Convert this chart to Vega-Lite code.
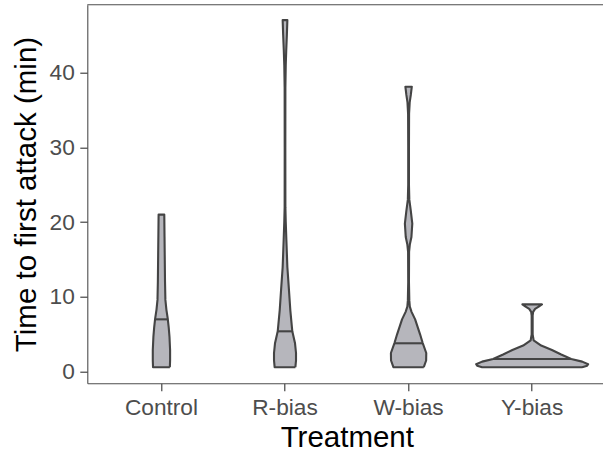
{
  "$schema": "https://vega.github.io/schema/vega-lite/v6.json",
  "width": 519,
  "height": 378.6,
  "autosize": {"type": "none"},
  "padding": {"left": 87.3, "top": 4.7, "right": -3.3, "bottom": 72.7},
  "config": {
    "view": {"stroke": null},
    "font": "Liberation Sans",
    "axis": {
      "domain": true, "domainColor": "#4d4d4d", "domainWidth": 1.1, "grid": false,
      "tickColor": "#333333", "tickSize": 7.5, "tickWidth": 1.1,
      "labelFont": "Liberation Sans", "labelFontSize": 22.7, "labelColor": "#4d4d4d",
      "titleFont": "Liberation Sans", "titleFontSize": 29.5, "titleFontWeight": "normal", "titleColor": "#000000"
    },
    "axisX": {"labelPadding": 6, "titlePadding": 4, "labelAngle": 0},
    "axisY": {"labelPadding": 5.5, "titlePadding": 8}
  },
  "datasets": {
    "outline": [
      {"g":"Control","t":0.6,"w":0.068,"k":1},{"g":"Control","t":1.5,"w":0.070,"k":2},{"g":"Control","t":2.9,"w":0.070,"k":3},{"g":"Control","t":4.7,"w":0.065,"k":4},{"g":"Control","t":5.9,"w":0.059,"k":5},{"g":"Control","t":7.1,"w":0.051,"k":6},{"g":"Control","t":8.3,"w":0.040,"k":7},{"g":"Control","t":9.6,"w":0.032,"k":8},{"g":"Control","t":12,"w":0.029,"k":9},{"g":"Control","t":15,"w":0.027,"k":10},{"g":"Control","t":18,"w":0.025,"k":11},{"g":"Control","t":21,"w":0.023,"k":12},
      {"g":"Control","t":21,"w":-0.023,"k":13},{"g":"Control","t":18,"w":-0.025,"k":14},{"g":"Control","t":15,"w":-0.027,"k":15},{"g":"Control","t":12,"w":-0.029,"k":16},{"g":"Control","t":9.6,"w":-0.032,"k":17},{"g":"Control","t":8.3,"w":-0.040,"k":18},{"g":"Control","t":7.1,"w":-0.051,"k":19},{"g":"Control","t":5.9,"w":-0.059,"k":20},{"g":"Control","t":4.7,"w":-0.065,"k":21},{"g":"Control","t":2.9,"w":-0.070,"k":22},{"g":"Control","t":1.5,"w":-0.070,"k":23},{"g":"Control","t":0.6,"w":-0.068,"k":24},{"g":"Control","t":0.6,"w":0.068,"k":25},

      {"g":"R-bias","t":0.6,"w":0.084,"k":1},{"g":"R-bias","t":1.5,"w":0.089,"k":2},{"g":"R-bias","t":2.5,"w":0.089,"k":3},{"g":"R-bias","t":3.8,"w":0.081,"k":4},{"g":"R-bias","t":5.4,"w":0.059,"k":5},{"g":"R-bias","t":8.2,"w":0.043,"k":6},{"g":"R-bias","t":10.9,"w":0.032,"k":7},{"g":"R-bias","t":14,"w":0.019,"k":8},{"g":"R-bias","t":17.6,"w":0.011,"k":9},{"g":"R-bias","t":20,"w":0.006,"k":10},{"g":"R-bias","t":22,"w":0.003,"k":11},{"g":"R-bias","t":30,"w":0.0025,"k":12},{"g":"R-bias","t":38,"w":0.003,"k":13},{"g":"R-bias","t":41,"w":0.006,"k":14},{"g":"R-bias","t":43,"w":0.010,"k":15},{"g":"R-bias","t":45,"w":0.015,"k":16},{"g":"R-bias","t":47,"w":0.019,"k":17},
      {"g":"R-bias","t":47,"w":-0.019,"k":18},{"g":"R-bias","t":45,"w":-0.015,"k":19},{"g":"R-bias","t":43,"w":-0.010,"k":20},{"g":"R-bias","t":41,"w":-0.006,"k":21},{"g":"R-bias","t":38,"w":-0.003,"k":22},{"g":"R-bias","t":30,"w":-0.0025,"k":23},{"g":"R-bias","t":22,"w":-0.003,"k":24},{"g":"R-bias","t":20,"w":-0.006,"k":25},{"g":"R-bias","t":17.6,"w":-0.011,"k":26},{"g":"R-bias","t":14,"w":-0.019,"k":27},{"g":"R-bias","t":10.9,"w":-0.032,"k":28},{"g":"R-bias","t":8.2,"w":-0.043,"k":29},{"g":"R-bias","t":5.4,"w":-0.059,"k":30},{"g":"R-bias","t":3.8,"w":-0.081,"k":31},{"g":"R-bias","t":2.5,"w":-0.089,"k":32},{"g":"R-bias","t":1.5,"w":-0.089,"k":33},{"g":"R-bias","t":0.6,"w":-0.084,"k":34},{"g":"R-bias","t":0.6,"w":0.084,"k":35},

      {"g":"W-bias","t":0.6,"w":0.123,"k":1},{"g":"W-bias","t":1.5,"w":0.142,"k":2},{"g":"W-bias","t":2.5,"w":0.143,"k":3},{"g":"W-bias","t":3.9,"w":0.113,"k":4},{"g":"W-bias","t":5,"w":0.093,"k":5},{"g":"W-bias","t":6,"w":0.073,"k":6},{"g":"W-bias","t":7,"w":0.053,"k":7},{"g":"W-bias","t":8,"w":0.024,"k":8},{"g":"W-bias","t":8.7,"w":0.010,"k":9},{"g":"W-bias","t":9.5,"w":0.006,"k":10},{"g":"W-bias","t":12,"w":0.003,"k":11},{"g":"W-bias","t":16,"w":0.004,"k":12},{"g":"W-bias","t":17,"w":0.010,"k":13},{"g":"W-bias","t":18,"w":0.023,"k":14},{"g":"W-bias","t":19.8,"w":0.030,"k":15},{"g":"W-bias","t":21.5,"w":0.018,"k":16},{"g":"W-bias","t":23,"w":0.006,"k":17},{"g":"W-bias","t":25,"w":0.003,"k":18},{"g":"W-bias","t":30,"w":0.003,"k":19},{"g":"W-bias","t":34.5,"w":0.004,"k":20},{"g":"W-bias","t":36,"w":0.009,"k":21},{"g":"W-bias","t":37,"w":0.018,"k":22},{"g":"W-bias","t":38.1,"w":0.026,"k":23},
      {"g":"W-bias","t":38.1,"w":-0.026,"k":24},{"g":"W-bias","t":37,"w":-0.018,"k":25},{"g":"W-bias","t":36,"w":-0.009,"k":26},{"g":"W-bias","t":34.5,"w":-0.004,"k":27},{"g":"W-bias","t":30,"w":-0.003,"k":28},{"g":"W-bias","t":25,"w":-0.003,"k":29},{"g":"W-bias","t":23,"w":-0.006,"k":30},{"g":"W-bias","t":21.5,"w":-0.018,"k":31},{"g":"W-bias","t":19.8,"w":-0.030,"k":32},{"g":"W-bias","t":18,"w":-0.023,"k":33},{"g":"W-bias","t":17,"w":-0.010,"k":34},{"g":"W-bias","t":16,"w":-0.004,"k":35},{"g":"W-bias","t":12,"w":-0.003,"k":36},{"g":"W-bias","t":9.5,"w":-0.006,"k":37},{"g":"W-bias","t":8.7,"w":-0.010,"k":38},{"g":"W-bias","t":8,"w":-0.024,"k":39},{"g":"W-bias","t":7,"w":-0.053,"k":40},{"g":"W-bias","t":6,"w":-0.073,"k":41},{"g":"W-bias","t":5,"w":-0.093,"k":42},{"g":"W-bias","t":3.9,"w":-0.113,"k":43},{"g":"W-bias","t":2.5,"w":-0.143,"k":44},{"g":"W-bias","t":1.5,"w":-0.142,"k":45},{"g":"W-bias","t":0.6,"w":-0.123,"k":46},{"g":"W-bias","t":0.6,"w":0.123,"k":47},

      {"g":"Y-bias","t":0.6,"w":0.405,"k":1},{"g":"Y-bias","t":0.8,"w":0.445,"k":2},{"g":"Y-bias","t":1.0,"w":0.453,"k":3},{"g":"Y-bias","t":1.35,"w":0.405,"k":4},{"g":"Y-bias","t":1.7,"w":0.316,"k":5},{"g":"Y-bias","t":2.3,"w":0.235,"k":6},{"g":"Y-bias","t":2.9,"w":0.160,"k":7},{"g":"Y-bias","t":3.5,"w":0.073,"k":8},{"g":"Y-bias","t":4.2,"w":0.012,"k":9},{"g":"Y-bias","t":5,"w":0.004,"k":10},{"g":"Y-bias","t":7.5,"w":0.004,"k":11},{"g":"Y-bias","t":8.0,"w":0.008,"k":12},{"g":"Y-bias","t":8.4,"w":0.024,"k":13},{"g":"Y-bias","t":8.7,"w":0.053,"k":14},{"g":"Y-bias","t":9.0,"w":0.079,"k":15},
      {"g":"Y-bias","t":9.0,"w":-0.079,"k":16},{"g":"Y-bias","t":8.7,"w":-0.053,"k":17},{"g":"Y-bias","t":8.4,"w":-0.024,"k":18},{"g":"Y-bias","t":8.0,"w":-0.008,"k":19},{"g":"Y-bias","t":7.5,"w":-0.004,"k":20},{"g":"Y-bias","t":5,"w":-0.004,"k":21},{"g":"Y-bias","t":4.2,"w":-0.012,"k":22},{"g":"Y-bias","t":3.5,"w":-0.073,"k":23},{"g":"Y-bias","t":2.9,"w":-0.160,"k":24},{"g":"Y-bias","t":2.3,"w":-0.235,"k":25},{"g":"Y-bias","t":1.7,"w":-0.316,"k":26},{"g":"Y-bias","t":1.35,"w":-0.405,"k":27},{"g":"Y-bias","t":1.0,"w":-0.453,"k":28},{"g":"Y-bias","t":0.8,"w":-0.445,"k":29},{"g":"Y-bias","t":0.6,"w":-0.405,"k":30},{"g":"Y-bias","t":0.6,"w":0.405,"k":31}
    ],
    "medians": [
      {"g":"Control","t":7.0,"w":-0.052},{"g":"Control","t":7.0,"w":0.052},
      {"g":"R-bias","t":5.4,"w":-0.059},{"g":"R-bias","t":5.4,"w":0.059},
      {"g":"W-bias","t":3.8,"w":-0.115},{"g":"W-bias","t":3.8,"w":0.115},
      {"g":"Y-bias","t":1.7,"w":-0.316},{"g":"Y-bias","t":1.7,"w":0.316}
    ]
  },
  "layer": [
    {
      "data": {"name": "outline"},
      "mark": {"type": "line", "fill": "#b6b6bc", "stroke": "#444444", "strokeWidth": 2.1, "strokeJoin": "round"},
      "encoding": {
        "x": {"field": "g", "type": "nominal", "sort": ["Control","R-bias","W-bias","Y-bias"],
              "scale": {"type": "band", "paddingInner": 0, "paddingOuter": 0.1},
              "title": "Treatment"},
        "xOffset": {"field": "w", "type": "quantitative", "scale": {"domain": [-0.5, 0.5]}},
        "y": {"field": "t", "type": "quantitative",
              "scale": {"domain": [-1.55, 49.06], "nice": false, "zero": false},
              "axis": {"values": [0, 10, 20, 30, 40]},
              "title": "Time to first attack (min)"},
        "detail": {"field": "g", "type": "nominal"},
        "order": {"field": "k", "type": "quantitative"}
      }
    },
    {
      "data": {"name": "medians"},
      "mark": {"type": "line", "stroke": "#444444", "strokeWidth": 2.1},
      "encoding": {
        "x": {"field": "g", "type": "nominal", "sort": ["Control","R-bias","W-bias","Y-bias"]},
        "xOffset": {"field": "w", "type": "quantitative"},
        "y": {"field": "t", "type": "quantitative"},
        "detail": {"field": "g", "type": "nominal"},
        "order": {"field": "w", "type": "quantitative"}
      }
    },
    {
      "data": {"values": [{}]},
      "mark": {"type": "rule", "stroke": "#4d4d4d", "strokeWidth": 1.1},
      "encoding": {"y": {"datum": 49.06, "type": "quantitative"}}
    }
  ]
}
